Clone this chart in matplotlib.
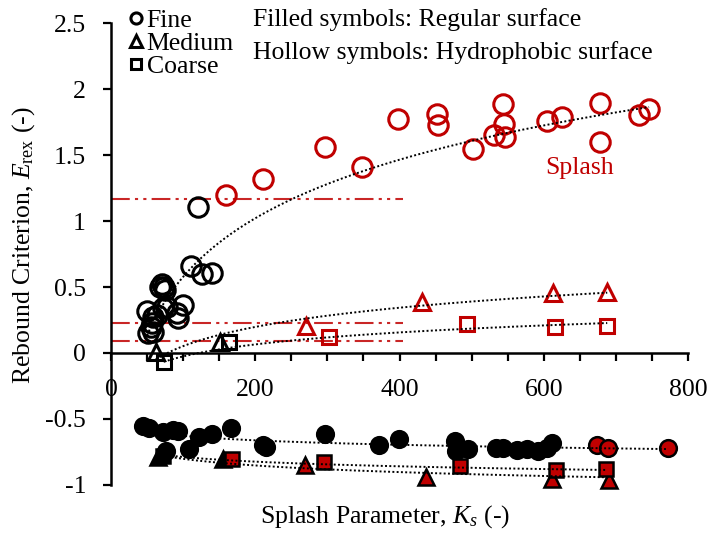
import numpy as np
import matplotlib
matplotlib.use("Agg")
import matplotlib.pyplot as plt
from matplotlib.lines import Line2D

plt.rcParams['font.family'] = 'Liberation Serif'
plt.rcParams['font.size'] = 18.5
plt.rcParams['mathtext.fontset'] = 'custom'
plt.rcParams['mathtext.rm'] = 'Liberation Serif'
plt.rcParams['mathtext.it'] = 'Liberation Serif:italic'

RED = '#C00000'

# hydrophobic surface (hollow symbols)
fine_hollow_blk_x = [121, 111, 126, 140, 70, 73, 75, 68, 100, 91, 93, 50, 58, 72, 77, 64, 51, 58, 57, 55]
fine_hollow_blk_y = [1.106, 0.66, 0.60, 0.606, 0.52, 0.50, 0.48, 0.50, 0.364, 0.30, 0.265, 0.32, 0.27,
                     0.34, 0.35, 0.29, 0.15, 0.16, 0.23, 0.20]
fine_hollow_red_x = [159, 211, 297, 348, 398, 452, 453, 502, 531, 543, 545, 546, 604, 625, 678, 678, 732, 746]
fine_hollow_red_y = [1.20, 1.318, 1.56, 1.41, 1.773, 1.81, 1.727, 1.545, 1.65, 1.886, 1.735, 1.636,
                     1.758, 1.788, 1.894, 1.598, 1.803, 1.848]

med_hollow_blk_x = [62, 151]
med_hollow_blk_y = [0.01, 0.08]
med_hollow_red_x = [270, 431, 613, 688]
med_hollow_red_y = [0.204, 0.386, 0.455, 0.46]

coarse_hollow_blk_x = [73, 164]
coarse_hollow_blk_y = [-0.07, 0.085]
coarse_hollow_red_x = [302, 494, 616, 688]
coarse_hollow_red_y = [0.12, 0.22, 0.20, 0.205]

# regular surface (filled symbols)
fine_fill_blk_x = [44, 53, 72, 76, 86, 93, 108, 122, 140, 166, 211, 215, 297, 371, 399, 477, 478,
                   495, 534, 544, 563, 577, 592, 604, 611]
fine_fill_blk_y = [-0.55, -0.565, -0.60, -0.74, -0.58, -0.59, -0.73, -0.64, -0.61, -0.57, -0.70, -0.71,
                   -0.61, -0.70, -0.65, -0.67, -0.74, -0.73, -0.72, -0.72, -0.735, -0.73, -0.74, -0.72, -0.68]
fine_fill_red_x = [674, 689, 772]
fine_fill_red_y = [-0.70, -0.72, -0.72]

med_fill_blk_x = [65, 155]
med_fill_blk_y = [-0.79, -0.80]
med_fill_red_x = [269, 437, 611, 690]
med_fill_red_y = [-0.85, -0.94, -0.955, -0.96]

coarse_fill_blk_x = [72]
coarse_fill_blk_y = [-0.78]
coarse_fill_red_x = [168, 295, 484, 617, 686]
coarse_fill_red_y = [-0.80, -0.825, -0.855, -0.885, -0.88]

# logarithmic trendlines y = a*ln(x) + b over [x0, x1]
trend_a = [0.64, 0.21, 0.131, -0.049, -0.0725, -0.051]
trend_b = [-2.37, -0.915, -0.629, -0.402, -0.468, -0.553]
trend_x0 = [50, 62, 73, 44, 65, 72]
trend_x1 = [746, 688, 688, 772, 690, 686]

# splash thresholds
thresh_y = [1.164, 0.225, 0.091]
thresh_x_end = 405

fig = plt.figure(figsize=(7.09, 5.39), dpi=100)
ax = fig.add_axes([0.1566, 0.1002, 0.8138, 0.8571])

for yv in thresh_y:
    ax.plot([0, thresh_x_end], [yv, yv], color=RED, lw=1.5, alpha=0.85,
            dashes=(9, 2.5, 1.5, 2.5, 1.5, 2.5), zorder=2)

for a, b, x0, x1 in zip(trend_a, trend_b, trend_x0, trend_x1):
    xx = np.linspace(x0, x1, 200)
    ax.plot(xx, a * np.log(xx) + b, color='black', ls=(0, (1, 1.2)), lw=1.4, zorder=5)

def hollow(xs, ys, m, c, ms):
    ax.plot(xs, ys, ls='none', marker=m, ms=ms, mfc='none', mec=c, mew=2.2, zorder=3, clip_on=False)

def filled(xs, ys, m, fc, ms):
    ax.plot(xs, ys, ls='none', marker=m, ms=ms, mfc=fc, mec='black', mew=1.8, zorder=3, clip_on=False)

hollow(fine_hollow_blk_x, fine_hollow_blk_y, 'o', 'black', 14)
hollow(fine_hollow_red_x, fine_hollow_red_y, 'o', RED, 14)
hollow(med_hollow_blk_x, med_hollow_blk_y, '^', 'black', 11.5)
hollow(med_hollow_red_x, med_hollow_red_y, '^', RED, 11.5)
hollow(coarse_hollow_blk_x, coarse_hollow_blk_y, 's', 'black', 10.5)
hollow(coarse_hollow_red_x, coarse_hollow_red_y, 's', RED, 10.5)

filled(fine_fill_blk_x, fine_fill_blk_y, 'o', 'black', 12)
filled(fine_fill_red_x, fine_fill_red_y, 'o', RED, 12)
filled(med_fill_blk_x, med_fill_blk_y, '^', 'black', 11)
filled(med_fill_red_x, med_fill_red_y, '^', RED, 11)
filled(coarse_fill_blk_x, coarse_fill_blk_y, 's', 'black', 10.5)
filled(coarse_fill_red_x, coarse_fill_red_y, 's', RED, 10.5)

ax.set_xlim(0, 800)
ax.set_ylim(-1, 2.5)
ax.spines['top'].set_visible(False)
ax.spines['right'].set_visible(False)
ax.spines['bottom'].set_position(('data', 0))
for s in ('left', 'bottom'):
    ax.spines[s].set_linewidth(1.8)

ax.set_xticks(np.arange(0, 801, 200))
ax.set_xticks(np.arange(0, 801, 50), minor=True)
ax.set_yticks(np.arange(-1, 2.51, 0.5))
ax.set_yticklabels(['-1', '-0.5', '0', '0.5', '1', '1.5', '2', '2.5'])
ax.tick_params(axis='x', which='both', direction='out', length=6, width=1.6, pad=13)
ax.tick_params(axis='y', direction='out', length=6, width=1.6, pad=12)

ax.set_xlabel('Splash Parameter, $K_s$ $\\mathit{(\u2010)}$')
ax.xaxis.set_label_coords(0.475, -0.04)
ax.set_ylabel(r'Rebound Criterion, $E_{\mathrm{rex}}$ (-)')
ax.yaxis.set_label_coords(-0.128, 0.52)

ax.text(649, 1.40, 'Splash', color=RED, ha='center', va='center')
fig.text(0.357, 0.964, 'Filled symbols: Regular surface', ha='left', va='center')
fig.text(0.357, 0.902, 'Hollow symbols: Hydrophobic surface', ha='left', va='center')

handles = [Line2D([], [], ls='none', marker=m, ms=s, mfc='none', mec='black', mew=2.2)
           for m, s in (('o', 8), ('^', 8), ('s', 7.5))]
fig.legend(handles, ['Fine', 'Medium', 'Coarse'], loc='upper left',
           bbox_to_anchor=(0.158, 1.017), frameon=False, handlelength=0.5,
           handletextpad=0.15, labelspacing=0.0, borderpad=0.2)

fig.savefig('out.png', dpi=100)
